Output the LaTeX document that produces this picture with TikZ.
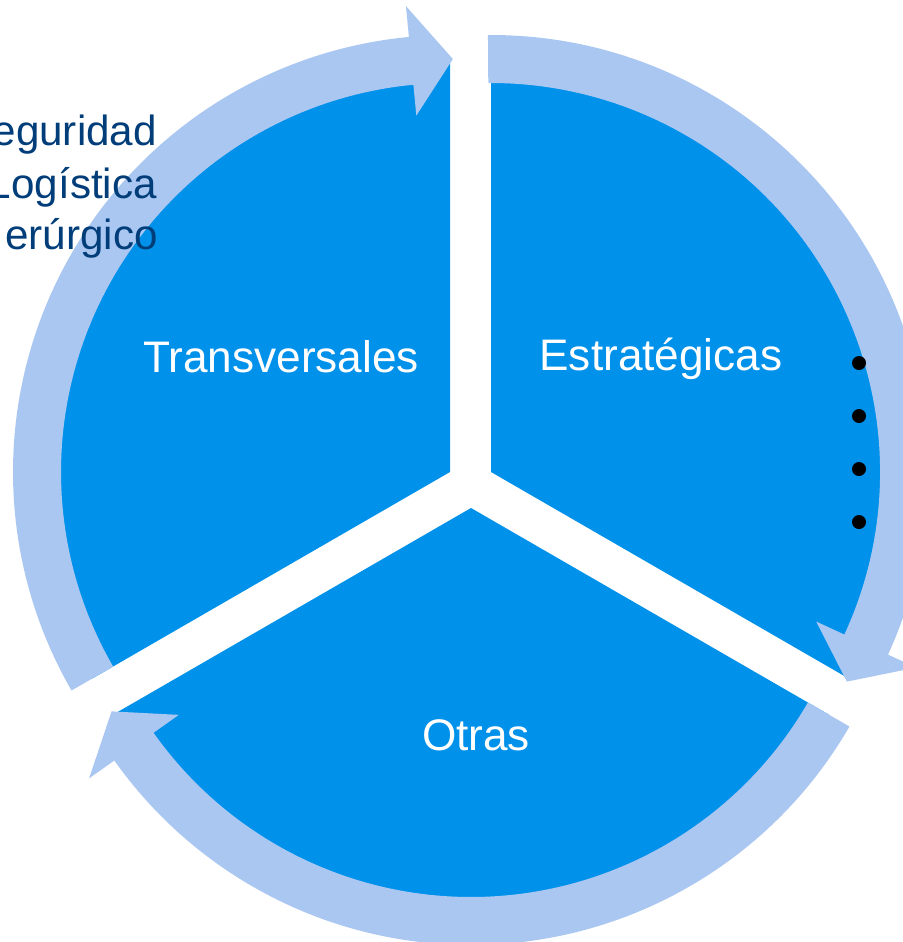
\documentclass[tikz,border=0pt]{standalone}
\usepackage{fontspec}
\setmainfont{Liberation Sans}
\usepackage{tikz}
\usetikzlibrary{positioning}
\definecolor{segblue}{RGB}{0,145,234}
\definecolor{arrblue}{RGB}{170,199,242}
\definecolor{navy}{RGB}{0,61,121}

\begin{document}
\begin{tikzpicture}[
x = 0.03cm, y = 0.03cm,
segfill/.style={fill = segblue},
arrfill/.style={fill = arrblue},
seglabel/.style={text = white, anchor = base, inner sep = 0, font = \fontsize{37.7}{44}\selectfont},
sidetext/.style={text = navy, anchor = base east, inner sep = 0, font = \fontsize{36}{44}\selectfont},
listdot/.style={circle, fill = black, inner sep = 0, minimum size = 0.42cm},
node distance = 1.59cm]

\useasboundingbox (0,0) rectangle (903,-942);

\coordinate (T) at (450,-472);
\coordinate (E) at (491,-472);
\coordinate (O) at (471,-508);

\fill[segfill] (T) -- ++(90:413) arc[start angle = 90, end angle = 210, radius = 413] -- cycle;
\fill[segfill] (E) -- ++(-30:413) arc[start angle = -30, end angle = 90, radius = 413] -- cycle;
\fill[segfill] (O) -- ++(210:413) arc[start angle = 210, end angle = 330, radius = 413] -- cycle;

\fill[arrfill] ([shift={(210:437)}]T) arc[start angle = 210, end angle = 95.4, radius = 437]
  -- ([shift={(95.4:468)}]T) -- ([shift={(89.6:413)}]T) -- ([shift={(95.4:358)}]T)
  -- ([shift={(95.4:389)}]T) arc[start angle = 95.4, end angle = 210, radius = 389] -- cycle;
\fill[arrfill] ([shift={(90.4:437)}]E) arc[start angle = 90.4, end angle = -24.7, radius = 437]
  -- ([shift={(-24.7:468)}]E) -- ([shift={(-30.5:413)}]E) -- ([shift={(-24.7:358)}]E)
  -- ([shift={(-24.7:389)}]E) arc[start angle = -24.7, end angle = 90.4, radius = 389] -- cycle;
\fill[arrfill] ([shift={(330:437)}]O) arc[start angle = 330, end angle = 215.3, radius = 437]
  -- ([shift={(215.3:468)}]O) -- ([shift={(209.5:413)}]O) -- ([shift={(215.3:358)}]O)
  -- ([shift={(215.3:389)}]O) arc[start angle = 215.3, end angle = 330, radius = 389] -- cycle;

\node[seglabel] (trans) at (281,-372) {Transversales};
\node[seglabel] (estr) at (661,-370) {Estratégicas};
\node[seglabel] (otras) at (476,-750) {Otras};

\node[sidetext] (s1) at (157,-145) {eguridad};
\node[sidetext] (s2) at (157,-198) {Logística};
\node[sidetext] (s3) at (158,-249) {erúrgico};

\node[listdot] (d1) at (859,-363) {};
\node[listdot, below of = d1] (d2) {};
\node[listdot, below of = d2] (d3) {};
\node[listdot, below of = d3] (d4) {};
\end{tikzpicture}
\end{document}
